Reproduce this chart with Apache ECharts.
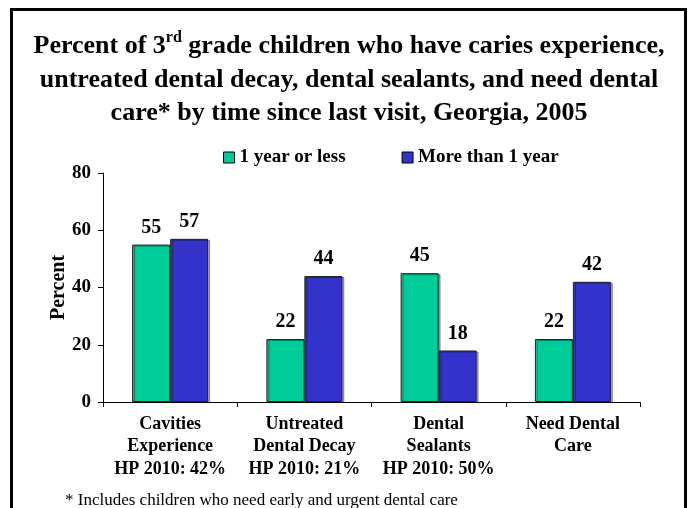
<!DOCTYPE html>
<html><head><meta charset="utf-8">
<script src="https://cdn.jsdelivr.net/npm/echarts@6/dist/echarts.min.js"></script>
<style>html,body{margin:0;padding:0;background:#fff}#c{width:691px;height:508px}</style>
</head><body><div id="c"></div>
<script>
const categories = ['Cavities\nExperience\nHP 2010: 42%', 'Untreated\nDental Decay\nHP 2010: 21%', 'Dental\nSealants\nHP 2010: 50%', 'Need Dental\nCare'];
const seriesNames = ['1 year or less', 'More than 1 year'];
const oneYearOrLess = [55, 22, 45, 22];
const moreThanOneYear = [57, 44, 18, 42];
const yTicks = [0, 20, 40, 60, 80];

const FONT = '"Liberation Serif", "Times New Roman", serif';
const chart = echarts.init(document.getElementById('c'));
const barStyle = c => ({color: c, borderColor: '#222', borderWidth: 1, shadowColor: 'rgba(0,0,0,0.35)', shadowOffsetX: 2, shadowOffsetY: 1, shadowBlur: 0});
const lbl = {show: true, position: 'top', distance: 7, fontFamily: FONT, fontWeight: 'bold', fontSize: 20, color: '#000'};
chart.setOption({
  animation: false,
  graphic: [{type: 'rect', shape: {x: 11.5, y: 9.5, width: 674, height: 520}, style: {fill: 'none', stroke: '#000', lineWidth: 3}}],
  title: {
    text: 'Percent of 3{sup|rd} grade children who have caries experience,\nuntreated dental decay, dental sealants, and need dental\ncare* by time since last visit, Georgia, 2005',
    left: 344, top: 25, textAlign: 'center',
    textStyle: {fontFamily: FONT, fontWeight: 'bold', fontSize: 26, lineHeight: 33.5, color: '#000',
      rich: {sup: {fontFamily: FONT, fontWeight: 'bold', fontSize: 16, verticalAlign: 'top', lineHeight: 33.5, padding: [0, 0, 12, 0]}}}
  },
  legend: {
    data: seriesNames, top: 148, left: 223, padding: 0, itemGap: 56, itemWidth: 11, itemHeight: 11,
    icon: 'rect',
    itemStyle: {borderColor: '#000', borderWidth: 1},
    textStyle: {fontFamily: FONT, fontWeight: 'bold', fontSize: 19, color: '#000'}
  },
  grid: {left: 103, right: 51, top: 173, bottom: 106, containLabel: false},
  xAxis: {
    type: 'category', data: categories,
    axisLine: {lineStyle: {color: '#000', width: 1}},
    axisTick: {show: true, length: 5, lineStyle: {color: '#000'}},
    axisLabel: {fontFamily: FONT, fontWeight: 'bold', fontSize: 18, lineHeight: 22.5, color: '#000', margin: 11, interval: 0}
  },
  yAxis: {
    type: 'value', min: yTicks[0], max: yTicks[yTicks.length - 1], interval: 20,
    name: 'Percent', nameLocation: 'middle', nameRotate: 90, nameGap: 34, nameMoveOverlap: false,
    nameTextStyle: {fontFamily: FONT, fontWeight: 'bold', fontSize: 20, color: '#000'},
    axisLine: {show: true, lineStyle: {color: '#000', width: 1}},
    axisTick: {show: true, length: 5, lineStyle: {color: '#000'}},
    splitLine: {show: false},
    axisLabel: {fontFamily: FONT, fontWeight: 'bold', fontSize: 19, color: '#000', margin: 12}
  },
  series: [
    {name: seriesNames[0], type: 'bar', data: oneYearOrLess, barWidth: 38, barGap: '0%', itemStyle: barStyle('#00CC99'), label: lbl},
    {name: seriesNames[1], type: 'bar', data: moreThanOneYear, barWidth: 38, barGap: '0%', itemStyle: barStyle('#3333CC'), label: lbl}
  ]
});
chart.getZr().add(new echarts.graphic.Text({
  style: {text: '* Includes children who need early and urgent dental care', x: 65, y: 501, fontFamily: FONT, fontSize: 17, fill: '#000', verticalAlign: 'middle'}
}));
</script></body></html>
